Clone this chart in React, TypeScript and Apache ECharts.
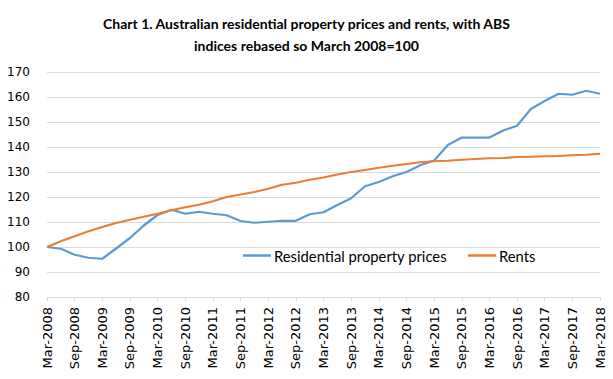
import React, { useEffect, useRef } from "react";
import * as echarts from "echarts";

const years = [2008, 2009, 2010, 2011, 2012, 2013, 2014, 2015, 2016, 2017, 2018];
const quarterMonths = ["Mar", "Jun", "Sep", "Dec"];
const categories: string[] = [];
years.forEach((y) => {
  quarterMonths.forEach((m) => {
    if (y === 2018 && m !== "Mar") return;
    categories.push(`${m}-${y}`);
  });
});

const propertyPrices = [
  100, 99.3, 96.9, 95.7, 95.3, 99.4, 103.6, 108.6, 112.8, 114.9,
  113.3, 114.1, 113.3, 112.7, 110.4, 109.7, 110.1, 110.5, 110.5, 113.1,
  113.9, 116.8, 119.5, 124.3, 126.0, 128.3, 130.0, 132.7, 134.6, 140.8,
  143.8, 143.8, 143.8, 146.6, 148.5, 155.2, 158.4, 161.3, 160.9, 162.5,
  161.3,
];

const rents = [
  100, 102.3, 104.3, 106.3, 108.0, 109.6, 110.9, 112.1, 113.3, 114.7,
  115.9, 116.9, 118.3, 120.0, 121.0, 122.0, 123.3, 124.9, 125.7, 126.9,
  127.8, 129.0, 130.0, 130.8, 131.7, 132.5, 133.2, 133.9, 134.3, 134.5,
  134.9, 135.2, 135.5, 135.6, 136.0, 136.1, 136.3, 136.4, 136.7, 136.9,
  137.3,
];

const titleText = "Chart 1. Australian residential property prices and rents, with ABS\nindices rebased so March 2008=100";

export default function App() {
  const ref = useRef<HTMLDivElement>(null);
  useEffect(() => {
    if (!ref.current) return;
    const chart = echarts.init(ref.current, null, { renderer: "svg" });
    const font = "Lato, 'Open Sans', sans-serif";
    const axisFont = "'DejaVu Sans', Verdana, sans-serif";
    chart.setOption({
      animation: false,
      backgroundColor: "#ffffff",
      title: {
        text: titleText,
        left: "center",
        top: 7,
        textStyle: {
          fontFamily: font,
          fontSize: 14,
          fontWeight: "bold",
          color: "#000000",
          lineHeight: 22,
        },
      },
      legend: {
        left: 238,
        top: 243,
        icon: "rect",
        itemWidth: 28,
        itemHeight: 2.5,
        itemGap: 21,
        textStyle: { fontFamily: font, fontSize: 14.8, color: "#000000", padding: [0, 0, 0, -2] },
        data: ["Residential property prices", "Rents"],
      },
      grid: { left: 47, right: 13, top: 72, bottom: 82, containLabel: false },
      xAxis: {
        type: "category",
        data: categories,
        boundaryGap: false,
        axisLine: { lineStyle: { color: "#D9D9D9", width: 1 } },
        axisTick: { interval: 1, length: 4, lineStyle: { color: "#D9D9D9" } },
        axisLabel: {
          interval: 1,
          rotate: 90,
          fontFamily: axisFont,
          fontSize: 13,
          color: "#000000",
          margin: 10,
        },
        splitLine: { show: false },
      },
      yAxis: {
        type: "value",
        min: 80,
        max: 170,
        interval: 10,
        axisLine: { show: false },
        axisTick: { show: false },
        axisLabel: { fontFamily: axisFont, fontSize: 12, color: "#000000", margin: 17 },
        splitLine: { lineStyle: { color: "#D9D9D9", width: 1 } },
      },
      series: [
        {
          name: "Residential property prices",
          type: "line",
          data: propertyPrices,
          symbol: "none",
          lineStyle: { color: "#5B9BD5", width: 2.25 },
          itemStyle: { color: "#5B9BD5" },
        },
        {
          name: "Rents",
          type: "line",
          data: rents,
          symbol: "none",
          lineStyle: { color: "#ED7D31", width: 2.25 },
          itemStyle: { color: "#ED7D31" },
        },
      ],
    });
    return () => chart.dispose();
  }, []);
  return <div ref={ref} style={{ width: 613, height: 379, position: "absolute", left: 0, top: 0 }} />;
}
